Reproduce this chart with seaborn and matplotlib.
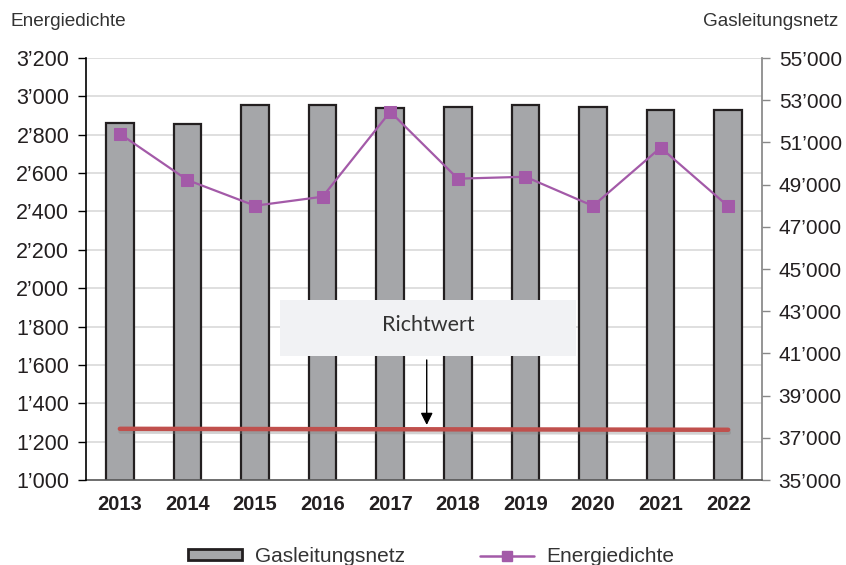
import numpy as np
import pandas as pd
import matplotlib
matplotlib.use("Agg")
import matplotlib.pyplot as plt
import matplotlib.patheffects as pe
from matplotlib.patches import Rectangle, Patch
from matplotlib.lines import Line2D
from matplotlib.ticker import FuncFormatter
from matplotlib.transforms import blended_transform_factory
import seaborn as sns

# values
years = [2013, 2014, 2015, 2016, 2017, 2018, 2019, 2020, 2021, 2022]
gasleitungsnetz = [51900, 51870, 52760, 52760, 52610, 52680, 52790, 52680, 52520, 52520]
energiedichte = [2805, 2564, 2430, 2477, 2920, 2571, 2581, 2429, 2733, 2427]
richtwert_years = [2013, 2022]
richtwert = [1267, 1262]

left_ticks = np.arange(1000, 3201, 200)
right_ticks = np.arange(35000, 55001, 2000)

bar_color = "#a5a6a9"
edge_color = "#231f20"
line_color = "#a35aa8"
red = "#c0504d"
text_color = "#231f20"

sns.set_theme(style="white")
plt.rcParams["font.family"] = ["Liberation Sans", "DejaVu Sans"]


def swiss(v, pos=None):
    return f"{v:,.0f}".replace(",", "\u2019")


df = pd.DataFrame({"Jahr": years, "Gasleitungsnetz": gasleitungsnetz, "Energiedichte": energiedichte})

fig = plt.figure(figsize=(8.46, 5.65), dpi=100)
ax = fig.add_axes([0.1017, 0.1504, 0.799, 0.7469])
ax_line = ax.twinx()

# bars on the (right) Gasleitungsnetz scale
sns.barplot(data=df, x="Jahr", y="Gasleitungsnetz", native_scale=True, width=0.41,
            color=bar_color, saturation=1, edgecolor=edge_color, linewidth=1.6,
            ax=ax, zorder=2)

# line on the (left) Energiedichte scale
sns.lineplot(data=df, x="Jahr", y="Energiedichte", ax=ax_line, color=line_color,
             lw=1.6, marker="s", markersize=8, markeredgecolor=line_color, zorder=3)
sns.lineplot(x=richtwert_years, y=richtwert, ax=ax_line, color=red, lw=3.2, zorder=2,
             path_effects=[pe.SimpleLineShadow(offset=(0.5, -2), shadow_color="gray", alpha=0.35),
                           pe.Normal()])

ax.set_ylim(35000, 55000)
ax_line.set_ylim(1000, 3200)
ax.set_xlim(2012.5, 2022.5)

# gridlines follow the left axis but sit behind the bars
trans = blended_transform_factory(ax.transAxes, ax_line.transData)
for v in left_ticks[1:]:
    ax.add_line(Line2D([0, 1], [v, v], transform=trans, color="#d9d9d9", lw=1.2, zorder=0.5))

# axes, ticks
ax.yaxis.tick_right()
ax_line.yaxis.tick_left()
ax.set_yticks(right_ticks)
ax_line.set_yticks(left_ticks)
ax.yaxis.set_major_formatter(FuncFormatter(swiss))
ax_line.yaxis.set_major_formatter(FuncFormatter(swiss))
ax.set_xticks(years)
ax.set_xticklabels([str(y) for y in years], fontweight="bold", fontsize=14.5, color=text_color)
ax.set_xticks(np.arange(2012.5, 2023, 1), minor=True)
ax.tick_params(axis="x", which="major", length=0, pad=11)
ax.tick_params(axis="x", which="minor", length=6, width=1, color="#555555", direction="out")
ax.tick_params(axis="y", which="major", length=6, width=1, color="#888888", direction="out",
               labelsize=15, labelcolor=text_color, right=True, left=False, pad=6)
ax_line.tick_params(axis="y", length=6, width=1, color="black", direction="out",
                    labelsize=15.5, labelcolor=text_color, pad=6)
ax.set_xlabel("")
ax.set_ylabel("")
ax_line.set_xlabel("")
ax_line.set_ylabel("")

for s in ["top", "left"]:
    ax.spines[s].set_visible(False)
ax.spines["right"].set_color("#888888")
ax.spines["bottom"].set_color("#555555")
ax.spines["bottom"].set_linewidth(1.2)
for s in ["top", "right", "bottom"]:
    ax_line.spines[s].set_visible(False)
ax_line.spines["left"].set_color("black")
ax_line.spines["left"].set_linewidth(1.2)

# Richtwert callout
ax_line.add_patch(Rectangle((2015.37, 1646), 4.38, 292, facecolor="#f1f2f4",
                            edgecolor="none", zorder=4))
ax_line.text(2017.56, 1808, "Richtwert", ha="center", va="center", fontsize=15.5,
             family=["Lato", "DejaVu Sans"], color="#333333", zorder=5)
ax_line.annotate("", xy=(2017.54, 1287), xytext=(2017.54, 1626),
                 arrowprops=dict(arrowstyle="-|>", color="black", lw=1,
                                 mutation_scale=18, shrinkA=0, shrinkB=0), zorder=5)

# axis titles
fig.text(10 / 846, 1 - 22 / 565, "Energiedichte", ha="left", va="center", fontsize=13.7, color="#333333")
fig.text(838 / 846, 1 - 22 / 565, "Gasleitungsnetz", ha="right", va="center", fontsize=13.7, color="#333333")

handles = [Patch(facecolor=bar_color, edgecolor=edge_color, linewidth=2),
           Line2D([], [], color=line_color, lw=1.8, marker="s", markersize=7)]
fig.legend(handles, ["Gasleitungsnetz", "Energiedichte"], loc="lower center",
           bbox_to_anchor=(0.51, -0.035), ncol=2, frameon=False, fontsize=15,
           handlelength=2.6, handleheight=0.42, columnspacing=3.6, handletextpad=0.6,
           labelcolor="#333333")

fig.savefig("out.png", dpi=100)
